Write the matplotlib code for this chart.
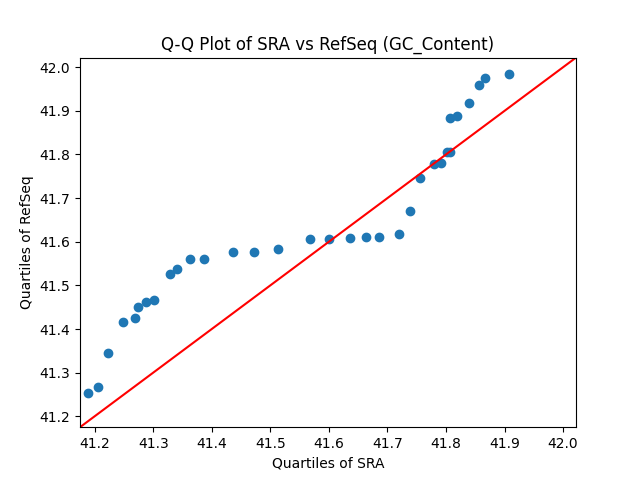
import matplotlib
matplotlib.use('Agg')
from matplotlib import pyplot as plt

# quantiles
sra_q = [41.189, 41.206, 41.223, 41.248, 41.269, 41.274, 41.288, 41.301,
         41.329, 41.341, 41.363, 41.387, 41.436, 41.472, 41.513, 41.567,
         41.600, 41.636, 41.663, 41.685, 41.719, 41.738, 41.755, 41.779,
         41.791, 41.801, 41.806, 41.806, 41.818, 41.839, 41.856, 41.866,
         41.907]
refseq_q = [41.254, 41.268, 41.344, 41.415, 41.426, 41.451, 41.461, 41.467,
            41.527, 41.538, 41.561, 41.561, 41.577, 41.577, 41.584, 41.607,
            41.607, 41.609, 41.611, 41.611, 41.618, 41.671, 41.746, 41.778,
            41.781, 41.806, 41.806, 41.883, 41.888, 41.918, 41.959, 41.975,
            41.984]
lims = [41.175, 42.022]

fig, ax = plt.subplots(figsize=(6.4, 4.8), dpi=100)
ax.plot(sra_q, refseq_q, 'o', ls='none')
ax.plot(lims, lims, 'r')   # 45 degree line
ax.set_xlim(lims)
ax.set_ylim(lims)
ax.set_xlabel('Quartiles of SRA')
ax.set_ylabel('Quartiles of RefSeq')
ax.set_title('Q-Q Plot of SRA vs RefSeq (GC_Content)')
plt.savefig('out.png')
